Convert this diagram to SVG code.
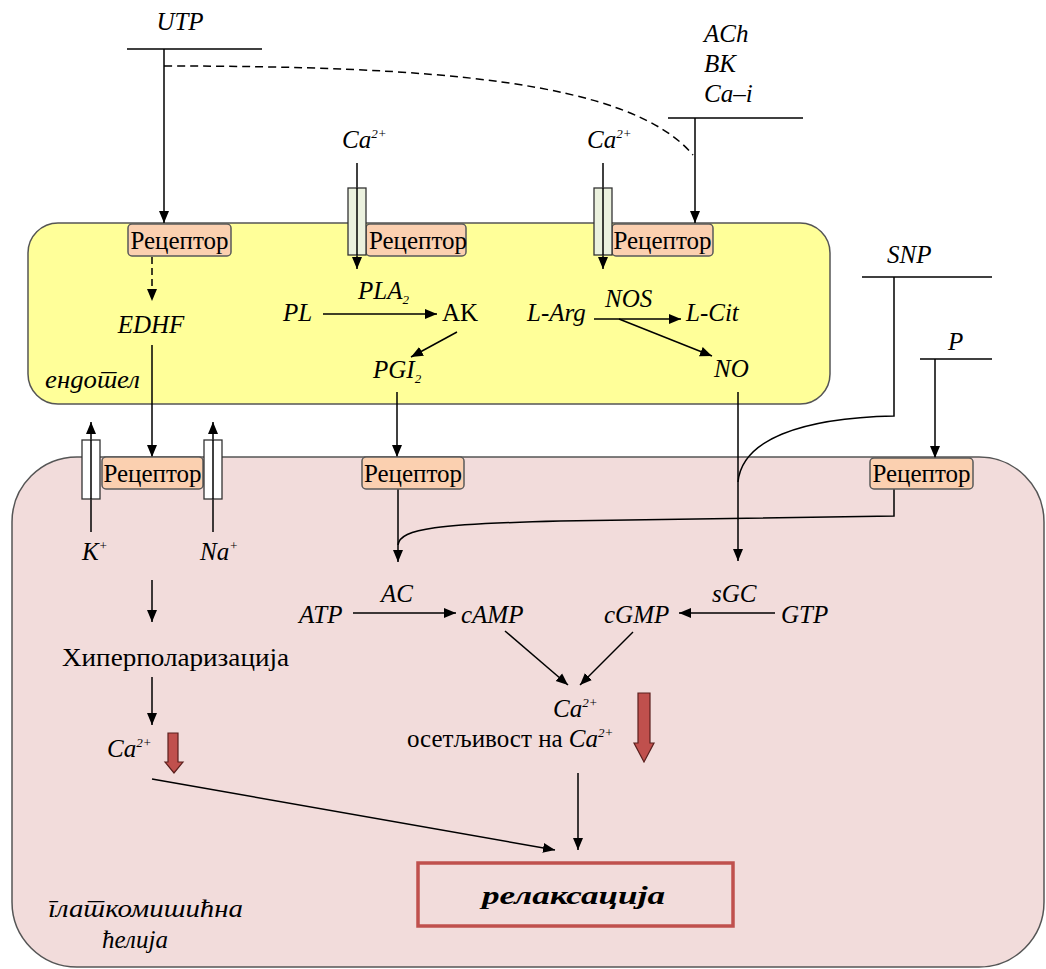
<svg xmlns="http://www.w3.org/2000/svg" width="1046" height="969" viewBox="0 0 1046 969">
<style>
text{font-family:'Liberation Serif','DejaVu Serif','Times New Roman',serif;font-size:25px;fill:#000}
.i{font-style:italic}
.sup{font-size:13px}
.rec rect{fill:#fbd0b0;stroke:#595959;stroke-width:1.5}
.rec text{text-anchor:middle}
.ch{fill:#ebf1de;stroke:#333;stroke-width:1.3}
.chw{fill:#fff;stroke:#333;stroke-width:1.3}
.ln{fill:none;stroke:#000;stroke-width:1.5}
.arr{marker-end:url(#ah)}
.red{fill:#c0504d;stroke:#5a1f1d;stroke-width:1.2}
</style>
<defs>
<marker id="ah" markerWidth="12" markerHeight="12" refX="12" refY="6" orient="auto" markerUnits="userSpaceOnUse"><path d="M0,1 L12,6 L0,11 z" fill="#000"/></marker>
</defs>
<rect width="1046" height="969" fill="#fff"/>
<g id="smooth-muscle-cell"><rect x="12" y="457" width="1032" height="510" rx="65" fill="#f2dcdb" stroke="#555" stroke-width="1.5"/>
<text class="i" x="48" y="917" font-size="25" textLength="195" lengthAdjust="spacingAndGlyphs" lang="sr">глаткомишићна</text>
<text class="i" x="135" y="948" text-anchor="middle" font-size="25" lang="sr">ћелија</text></g>
<g id="endothelium"><rect x="28" y="223" width="802" height="181" rx="30" fill="#ffff99" stroke="#555" stroke-width="1.5"/>
<text class="i" x="45" y="388" font-size="25" textLength="95" lengthAdjust="spacingAndGlyphs" lang="sr">ендотел</text></g>

<g id="connectors">
<path class="ln" d="M127,49 H262" />
<path class="ln" d="M668,118 H803" />
<path class="ln" d="M862,277 H992" />
<path class="ln" d="M920,359 H992" />
<path class="ln arr" d="M164,49 V223"/>
<path class="ln" d="M164,66 C430,66 630,80 693,155" stroke="#555" stroke-dasharray="8,5"/>
<path class="ln arr" d="M695,118 V223"/>
<path class="ln arr" d="M357,163 V269"/>
<path class="ln arr" d="M603,163 V269"/>
<path class="ln arr" d="M152,257 V301" stroke-dasharray="7,4"/>
<path class="ln arr" d="M323,314 H437"/>
<path class="ln arr" d="M457,332 L411,357"/>
<path class="ln arr" d="M594,319 H681"/>
<path class="ln arr" d="M619,319 L712,356"/>
<path class="ln arr" d="M152,345 V457"/>
<path class="ln arr" d="M397,392 V457"/>
<path class="ln arr" d="M738,392 V561"/>
<path class="ln" d="M894,277 V416 C800,418 742,440 738,482"/>
<path class="ln arr" d="M935,359 V458"/>
<path class="ln" d="M894,489 V516 L560,521 C440,524 400,528 398,545"/>
<path class="ln arr" d="M398,489 V562"/>
<path class="ln arr" d="M91,532 V422"/>
<path class="ln arr" d="M213,532 V422"/>
<path class="ln arr" d="M353,613 H456"/>
<path class="ln arr" d="M775,613 H679"/>
<path class="ln arr" d="M505,631 L568,685"/>
<path class="ln arr" d="M633,632 L580,685"/>
<path class="ln arr" d="M152,580 V622"/>
<path class="ln arr" d="M152,677 V725"/>
<path class="ln arr" d="M578,773 V850"/>
<path class="ln arr" d="M152,779 L555,850"/>
</g>

<g id="rec-utp" class="rec"><rect x="128" y="224" width="103" height="32" rx="4"/><text x="179.5" y="249">Рецептор</text></g>
<g id="rec-pla" class="rec"><rect x="366" y="224" width="100" height="32" rx="4"/><text x="418" y="249">Рецептор</text></g>
<g id="rec-nos" class="rec"><rect x="612" y="224" width="101" height="32" rx="4"/><text x="662.5" y="249">Рецептор</text></g>
<g id="rec-edhf" class="rec"><rect x="102" y="457" width="101" height="32" rx="4"/><text x="152.5" y="482">Рецептор</text></g>
<g id="rec-pgi" class="rec"><rect x="362" y="457" width="102" height="32" rx="4"/><text x="413" y="482">Рецептор</text></g>
<g id="rec-p" class="rec"><rect x="870" y="458" width="103" height="31" rx="4"/><text x="921.5" y="482">Рецептор</text></g>

<g id="ch-ca1"><rect class="ch" x="348" y="188" width="18" height="67"/><path class="ln" d="M357,188 V255"/></g>
<g id="ch-ca2"><rect class="ch" x="594" y="188" width="18" height="67"/><path class="ln" d="M603,188 V255"/></g>
<g id="ch-k"><rect class="chw" x="82" y="440" width="18" height="59"/><path class="ln" d="M91,440 V499"/></g>
<g id="ch-na"><rect class="chw" x="204" y="440" width="18" height="59"/><path class="ln" d="M213,440 V499"/></g>

<g id="utp"><text class="i" x="180" y="30" text-anchor="middle">UTP</text></g>
<g id="ach"><text class="i" x="704" y="42">ACh</text><text class="i" x="704" y="72">BK</text><text class="i" x="704" y="102">Ca–i</text></g>
<g id="ca-top1"><text class="i" x="342" y="148">Ca<tspan class="sup" dy="-10">2+</tspan></text></g>
<g id="ca-top2"><text class="i" x="587" y="148">Ca<tspan class="sup" dy="-10">2+</tspan></text></g>
<g id="snp"><text class="i" x="887" y="263">SNP</text></g>
<g id="p"><text class="i" x="948" y="350">P</text></g>

<g id="edhf"><text class="i" x="151" y="333" text-anchor="middle">EDHF</text></g>
<g id="pla2"><text class="i" x="358" y="299">PLA<tspan class="sup" dy="5">2</tspan></text></g>
<g id="pl"><text class="i" x="283" y="321">PL</text></g>
<g id="ak"><text x="442" y="321">AK</text></g>
<g id="pgi2"><text class="i" x="373" y="378">PGI<tspan class="sup" dy="5">2</tspan></text></g>
<g id="larg"><text class="i" x="527" y="321">L-Arg</text></g>
<g id="nos"><text class="i" x="605" y="307">NOS</text></g>
<g id="lcit"><text class="i" x="686" y="321">L-Cit</text></g>
<g id="no"><text class="i" x="714" y="377">NO</text></g>

<g id="k"><text class="i" x="82" y="560">K<tspan class="sup" dy="-10">+</tspan></text></g>
<g id="na"><text class="i" x="200" y="560">Na<tspan class="sup" dy="-10">+</tspan></text></g>
<g id="ac"><text class="i" x="381" y="602">AC</text></g>
<g id="sgc"><text class="i" x="712" y="602">sGC</text></g>
<g id="atp"><text class="i" x="299" y="623">ATP</text></g>
<g id="camp"><text class="i" x="461" y="623">cAMP</text></g>
<g id="cgmp"><text class="i" x="604" y="623">cGMP</text></g>
<g id="gtp"><text class="i" x="781" y="623">GTP</text></g>
<g id="ca-sens"><text class="i" x="553" y="717">Ca<tspan class="sup" dy="-10">2+</tspan></text>
<text x="407" y="747">осетљивост на <tspan class="i">Ca</tspan><tspan class="sup i" dy="-10">2+</tspan></text>
<path class="red" d="M638,693 H650 V743 H654 L644,762 L634,743 H638 Z"/></g>
<g id="hyper"><text x="62" y="666" textLength="227" lengthAdjust="spacingAndGlyphs">Хиперполаризација</text></g>
<g id="ca-left"><text class="i" x="107" y="757">Ca<tspan class="sup" dy="-10">2+</tspan></text>
<path class="red" d="M168,733 H178 V762 H183 L174,773 L165,762 H168 Z"/></g>
<g id="relax"><rect x="418" y="863" width="315" height="63" fill="none" stroke="#c0504d" stroke-width="3.5"/>
<text x="482" y="904" font-size="34" font-weight="bold" font-style="italic" textLength="183" lengthAdjust="spacingAndGlyphs" lang="sr">релаксација</text></g>
</svg>
